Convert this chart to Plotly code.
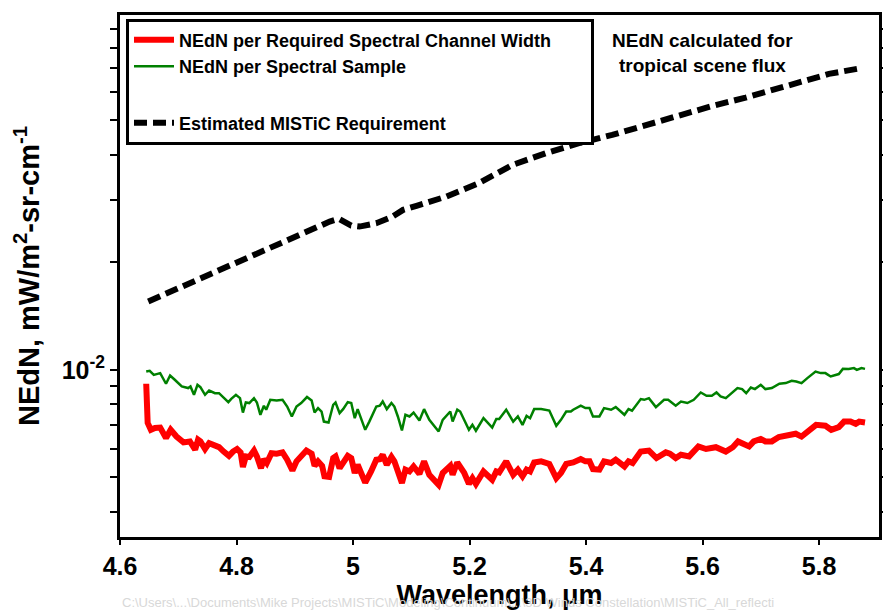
import plotly.graph_objects as go

# ---------------- data ----------------
wl_channel = [4.645, 4.6475, 4.653, 4.660, 4.669, 4.679, 4.687, 4.697, 4.709, 4.720,
              4.729, 4.734, 4.738, 4.746, 4.753, 4.763, 4.770, 4.778, 4.787, 4.794,
              4.801, 4.807, 4.811, 4.816, 4.822, 4.830, 4.835, 4.842, 4.847, 4.852,
              4.860, 4.869, 4.879, 4.887, 4.896, 4.903, 4.911, 4.920, 4.929, 4.934,
              4.940, 4.947, 4.951, 4.959, 4.966, 4.970, 4.977, 4.984, 4.991, 4.997,
              5.003, 5.008, 5.021, 5.031, 5.040, 5.046, 5.051, 5.058, 5.066, 5.071,
              5.077, 5.084, 5.090, 5.097, 5.104, 5.114, 5.122, 5.131, 5.147, 5.154,
              5.167, 5.171, 5.179, 5.184, 5.191, 5.199, 5.205, 5.211, 5.224, 5.239,
              5.246, 5.251, 5.263, 5.275, 5.283, 5.291, 5.298, 5.304, 5.311, 5.323,
              5.337, 5.349, 5.357, 5.366, 5.374, 5.378, 5.391, 5.399, 5.406, 5.412,
              5.423, 5.431, 5.443, 5.451, 5.466, 5.473, 5.480, 5.494, 5.508, 5.521,
              5.537, 5.544, 5.554, 5.563, 5.577, 5.593, 5.606, 5.623, 5.640, 5.652,
              5.661, 5.671, 5.680, 5.688, 5.700, 5.708, 5.719, 5.731, 5.748, 5.760,
              5.770, 5.783, 5.795, 5.811, 5.821, 5.834, 5.843, 5.854, 5.863, 5.869,
              5.879]
nedn_channel = [0.00914, 0.00710, 0.00679, 0.00687, 0.00689, 0.00644, 0.00679, 0.00650, 0.00626, 0.00630,
                0.00597, 0.00637, 0.00630, 0.00600, 0.00623, 0.00613, 0.00607, 0.00590, 0.00574, 0.00590,
                0.00600, 0.00587, 0.00534, 0.00572, 0.00570, 0.00594, 0.00572, 0.00530, 0.00562, 0.00548,
                0.00584, 0.00582, 0.00587, 0.00560, 0.00522, 0.00554, 0.00570, 0.00594, 0.00582, 0.00538,
                0.00554, 0.00538, 0.00503, 0.00501, 0.00566, 0.00572, 0.00530, 0.00548, 0.00574, 0.00566,
                0.00514, 0.00542, 0.00483, 0.00519, 0.00560, 0.00562, 0.00578, 0.00542, 0.00570, 0.00554,
                0.00519, 0.00482, 0.00525, 0.00519, 0.00536, 0.00511, 0.00554, 0.00508, 0.00476, 0.00514,
                0.00538, 0.00508, 0.00550, 0.00538, 0.00514, 0.00479, 0.00497, 0.00479, 0.00519, 0.00492,
                0.00519, 0.00516, 0.00554, 0.00508, 0.00525, 0.00503, 0.00525, 0.00519, 0.00550, 0.00554,
                0.00545, 0.00497, 0.00514, 0.00545, 0.00545, 0.00550, 0.00562, 0.00554, 0.00554, 0.00527,
                0.00525, 0.00554, 0.00548, 0.00560, 0.00536, 0.00554, 0.00548, 0.00590, 0.00594, 0.00566,
                0.00587, 0.00582, 0.00566, 0.00578, 0.00572, 0.00610, 0.00600, 0.00607, 0.00590, 0.00607,
                0.00630, 0.00620, 0.00610, 0.00630, 0.00640, 0.00630, 0.00630, 0.00648, 0.00658, 0.00662,
                0.00650, 0.00672, 0.00701, 0.00697, 0.00679, 0.00691, 0.00716, 0.00716, 0.00706, 0.00716,
                0.00712]

wl_sample = [4.645, 4.651, 4.658, 4.669, 4.679, 4.686, 4.694, 4.706, 4.717, 4.721,
             4.727, 4.733, 4.738, 4.746, 4.753, 4.763, 4.770, 4.777, 4.786, 4.791,
             4.799, 4.806, 4.811, 4.816, 4.822, 4.830, 4.835, 4.841, 4.847, 4.851,
             4.858, 4.869, 4.879, 4.887, 4.895, 4.903, 4.911, 4.921, 4.929, 4.934,
             4.940, 4.946, 4.950, 4.958, 4.966, 4.970, 4.977, 4.983, 4.991, 4.997,
             5.003, 5.008, 5.021, 5.028, 5.035, 5.040, 5.046, 5.051, 5.058, 5.066,
             5.071, 5.077, 5.084, 5.090, 5.097, 5.104, 5.114, 5.122, 5.131, 5.147,
             5.154, 5.167, 5.171, 5.179, 5.184, 5.191, 5.199, 5.205, 5.211, 5.224,
             5.239, 5.246, 5.251, 5.263, 5.275, 5.283, 5.291, 5.298, 5.304, 5.311,
             5.323, 5.337, 5.349, 5.357, 5.366, 5.374, 5.378, 5.391, 5.399, 5.406,
             5.412, 5.423, 5.431, 5.443, 5.451, 5.466, 5.473, 5.479, 5.494, 5.500,
             5.508, 5.520, 5.534, 5.541, 5.554, 5.563, 5.574, 5.585, 5.597, 5.607,
             5.616, 5.624, 5.631, 5.640, 5.651, 5.660, 5.668, 5.675, 5.683, 5.690,
             5.700, 5.708, 5.719, 5.732, 5.743, 5.753, 5.761, 5.770, 5.780, 5.794,
             5.803, 5.811, 5.820, 5.834, 5.841, 5.851, 5.860, 5.865, 5.873, 5.879]
nedn_sample = [0.00989, 0.00994, 0.00968, 0.00979, 0.00914, 0.00964, 0.00938, 0.00898, 0.00889, 0.00898,
               0.00851, 0.00908, 0.00894, 0.00851, 0.00875, 0.00860, 0.00860, 0.00839, 0.00812, 0.00829,
               0.00851, 0.00833, 0.00759, 0.00810, 0.00807, 0.00833, 0.00810, 0.00748, 0.00793, 0.00773,
               0.00824, 0.00820, 0.00824, 0.00789, 0.00740, 0.00789, 0.00807, 0.00839, 0.00820, 0.00759,
               0.00781, 0.00764, 0.00716, 0.00712, 0.00798, 0.00810, 0.00756, 0.00776, 0.00812, 0.00807,
               0.00732, 0.00776, 0.00679, 0.00716, 0.00756, 0.00789, 0.00793, 0.00815, 0.00776, 0.00807,
               0.00789, 0.00740, 0.00676, 0.00748, 0.00740, 0.00759, 0.00721, 0.00776, 0.00724, 0.00672,
               0.00724, 0.00764, 0.00716, 0.00773, 0.00764, 0.00724, 0.00679, 0.00701, 0.00675, 0.00732,
               0.00689, 0.00728, 0.00728, 0.00773, 0.00716, 0.00740, 0.00701, 0.00743, 0.00732, 0.00776,
               0.00776, 0.00769, 0.00697, 0.00724, 0.00764, 0.00764, 0.00773, 0.00794, 0.00781, 0.00781,
               0.00740, 0.00740, 0.00781, 0.00773, 0.00786, 0.00748, 0.00776, 0.00768, 0.00828, 0.00824,
               0.00833, 0.00786, 0.00824, 0.00824, 0.00793, 0.00815, 0.00807, 0.00824, 0.00864, 0.00846,
               0.00846, 0.00864, 0.00842, 0.00833, 0.00864, 0.00889, 0.00883, 0.00860, 0.00892, 0.00883,
               0.00908, 0.00883, 0.00889, 0.00914, 0.00918, 0.00932, 0.00927, 0.00918, 0.00948, 0.00989,
               0.00979, 0.00979, 0.00958, 0.00973, 0.01006, 0.01005, 0.01011, 0.01000, 0.01011, 0.01006]

wl_req = [4.6485, 4.674, 4.731, 4.789, 4.846, 4.903, 4.960, 4.976, 4.986, 4.997,
          5.011, 5.040, 5.068, 5.086, 5.109, 5.160, 5.217, 5.274, 5.331, 5.388,
          5.445, 5.503, 5.560, 5.617, 5.674, 5.731, 5.788, 5.817, 5.871]
nedn_req = [0.01554, 0.01622, 0.01767, 0.01956, 0.02145, 0.02363, 0.02603, 0.02649, 0.02603, 0.02536,
            0.02520, 0.02576, 0.02688, 0.02807, 0.02880, 0.03058, 0.03341, 0.03752, 0.04046, 0.04316,
            0.04553, 0.04856, 0.05180, 0.05489, 0.05791, 0.06153, 0.06563, 0.06748, 0.07001]

x_tickvals = [4.6, 4.8, 5.0, 5.2, 5.4, 5.6, 5.8]
x_ticktext = ["4.6", "4.8", "5", "5.2", "5.4", "5.6", "5.8"]
y_tickvals = [0.01]
y_ticktext = ["10<sup>-2</sup>"]
y_minor_tickvals = [0.004, 0.005, 0.006, 0.007, 0.008, 0.009,
                    0.02, 0.03, 0.04, 0.05, 0.06, 0.07, 0.08, 0.09]

NBSP = "\u00a0"
FONT = "Liberation Sans, Arial, sans-serif"

fig = go.Figure()
fig.add_trace(go.Scatter(
    x=wl_channel, y=nedn_channel, mode="lines",
    name="NEdN per Required Spectral Channel Width" + NBSP * 7,
    legendgroup="a",
    line=dict(color="#ff0000", width=6)))
fig.add_trace(go.Scatter(
    x=wl_sample, y=nedn_sample, mode="lines",
    name="NEdN per Spectral Sample",
    legendgroup="a",
    line=dict(color="#008000", width=2.5)))
fig.add_trace(go.Scatter(
    x=wl_req, y=nedn_req, mode="lines",
    name="Estimated MISTiC Requirement",
    legendgroup="b",
    line=dict(color="black", width=6, dash="13px,6px")))

fig.update_layout(
    width=883, height=610,
    margin=dict(l=120, r=4, t=15, b=73, autoexpand=False),
    paper_bgcolor="white", plot_bgcolor="white",
    font=dict(family=FONT, color="black", weight="bold"),
    showlegend=True,
    legend=dict(
        x=0.0079, y=0.993, xanchor="left", yanchor="top",
        bgcolor="white", bordercolor="black", borderwidth=3,
        font=dict(family=FONT, size=18, color="black", weight="bold"),
        tracegroupgap=30, traceorder="grouped",
        itemwidth=40,
    ),
    xaxis=dict(
        range=[4.6, 5.903], tickvals=x_tickvals, ticktext=x_ticktext,
        ticks="outside", ticklen=5, tickwidth=2, tickcolor="black",
        showline=True, linewidth=3, linecolor="black", mirror=True,
        showgrid=False, zeroline=False, automargin=False,
        tickfont=dict(family=FONT, size=25, color="black", weight="bold"),
        title=dict(text="Wavelength, μm", standoff=4,
                   font=dict(family=FONT, size=27, color="black", weight="bold")),
    ),
    yaxis=dict(
        type="log", range=[-2.4685, -1.0057],
        tickvals=y_tickvals, ticktext=y_ticktext,
        ticks="outside", ticklen=7, tickwidth=2, tickcolor="black",
        minor=dict(tickvals=y_minor_tickvals, ticks="outside", ticklen=7,
                   tickwidth=2, tickcolor="black", showgrid=False),
        showline=True, linewidth=3, linecolor="black", mirror="ticks",
        showgrid=False, zeroline=False, automargin=False,
        tickfont=dict(family=FONT, size=25, color="black", weight="bold"),
        title=dict(text="NEdN, mW/m<sup>2</sup>-sr-cm<sup>-1</sup>", standoff=14,
                   font=dict(family=FONT, size=29, color="black", weight="bold")),
    ),
    annotations=[
        dict(text="NEdN calculated for",
             xref="paper", yref="paper", x=0.768, y=0.952,
             xanchor="center", yanchor="middle", showarrow=False,
             font=dict(family=FONT, size=19, color="black", weight="bold")),
        dict(text="tropical scene flux",
             xref="paper", yref="paper", x=0.768, y=0.904,
             xanchor="center", yanchor="middle", showarrow=False,
             font=dict(family=FONT, size=19, color="black", weight="bold")),
        dict(text="C:\\Users\\...\\Documents\\Mike Projects\\MISTiC\\Modeling\\Continuum\\...\\3D Winds Constellation\\MISTiC_All_reflecti",
             xref="paper", yref="paper", x=0.0, y=-0.126,
             xanchor="left", yanchor="middle", showarrow=False,
             font=dict(family=FONT, size=13, color="#d8d8d8", weight="normal")),
    ],
)

fig.write_html("out.html",
               config={"displayModeBar": False},
               post_script="document.body.style.margin='0';document.body.style.overflow='hidden';")
